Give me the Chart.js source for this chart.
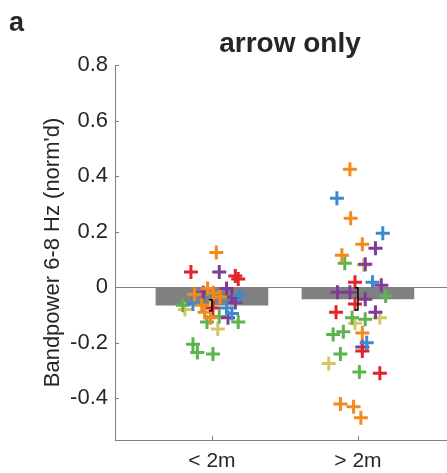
<!DOCTYPE html>
<html>
<head>
<meta charset="utf-8">
<script src="https://cdn.jsdelivr.net/npm/chart.js@4.4.1/dist/chart.umd.min.js"></script>
<style>
  html, body { margin: 0; padding: 0; background: #fff; }
  #wrap { position: relative; width: 447px; height: 473px; font-family: 'Liberation Sans', Arial, sans-serif; color: #262626; }
  #panel { position: absolute; left: 9px; top: 7px; font-size: 27px; font-weight: bold; }
  #title { position: absolute; left: 290px; top: 27px; transform: translateX(-50%); font-size: 28px; font-weight: bold; white-space: nowrap; }
  canvas { position: absolute; left: 0; top: 0; }
</style>
</head>
<body>
<div id="wrap">
  <canvas id="chart" width="447" height="473"></canvas>
  <div id="panel">a</div>
  <div id="title">arrow only</div>
</div>
<script>
// groups and their bar means / error (SEM)
const categories = ['< 2m', '> 2m'];
const barMeans   = [-0.065, -0.042];
const barErrors  = [0.02, 0.04];
const yTicks     = [0.8, 0.6, 0.4, 0.2, 0, -0.2, -0.4];

// individual subjects, x = group position + jitter
const orangePts = [
  {x:1.03,y:0.125},{x:0.97,y:-0.005},{x:0.88,y:-0.025},{x:1.01,y:-0.02},{x:1.055,y:-0.035},
  {x:0.93,y:-0.065},{x:0.95,y:-0.09},{x:0.99,y:-0.11},
  {x:1.945,y:0.425},{x:1.95,y:0.248},{x:2.03,y:0.155},{x:1.89,y:0.115},{x:2.03,y:-0.165},
  {x:1.88,y:-0.42},{x:1.97,y:-0.43},{x:2.02,y:-0.47}
];
const bluePts = [
  {x:1.19,y:-0.03},{x:0.87,y:-0.06},{x:1.10,y:-0.075},{x:1.137,y:-0.095},
  {x:1.856,y:0.32},{x:2.17,y:0.194},{x:2.10,y:0.018},{x:2.06,y:-0.2}
];
const redPts = [
  {x:0.856,y:0.055},{x:1.16,y:0.04},{x:1.18,y:0.03},{x:1.007,y:-0.075},
  {x:1.98,y:0.018},{x:1.98,y:-0.06},{x:1.85,y:-0.09},{x:2.03,y:-0.23},{x:2.15,y:-0.31}
];
const purplePts = [
  {x:1.05,y:0.055},{x:1.10,y:-0.005},{x:1.137,y:-0.035},{x:0.94,y:-0.02},{x:1.16,y:-0.055},{x:1.11,y:-0.11},
  {x:2.12,y:0.14},{x:2.05,y:0.083},{x:2.16,y:0.007},{x:1.86,y:-0.018},{x:1.945,y:-0.018},
  {x:2.05,y:-0.043},{x:2.12,y:-0.09},{x:2.03,y:-0.215}
];
const greenPts = [
  {x:0.80,y:-0.065},{x:1.05,y:-0.105},{x:1.18,y:-0.125},{x:0.966,y:-0.125},{x:0.87,y:-0.205},
  {x:0.90,y:-0.235},{x:1.007,y:-0.24},
  {x:1.91,y:0.086},{x:2.19,y:-0.032},{x:1.96,y:-0.11},{x:2.05,y:-0.115},{x:1.83,y:-0.17},
  {x:1.90,y:-0.16},{x:1.88,y:-0.24},{x:2.01,y:-0.305}
];
const yellowPts = [
  {x:0.815,y:-0.08},{x:0.99,y:-0.07},{x:1.04,y:-0.15},
  {x:2.04,y:0.08},{x:2.15,y:-0.11},{x:1.98,y:-0.13},{x:1.80,y:-0.275}
];

const AXIS = '#808080';
const TXT  = '#262626';

function crossSet(data, color) {
  return {
    type: 'scatter', data, order: 1,
    pointStyle: 'cross', pointRadius: 7, pointHoverRadius: 7,
    borderColor: color, backgroundColor: color, pointBorderWidth: 3,
  };
}

// inward ticks + error bars, drawn with the chart's own scales
const extras = {
  id: 'extras',
  afterDatasetsDraw(chart) {
    const { ctx, scales: { x, y } } = chart;
    ctx.save();
    ctx.strokeStyle = '#000';
    ctx.lineWidth = 1.5;
    barMeans.forEach((m, i) => {
      const px = x.getPixelForValue(i + 1);
      const top = y.getPixelForValue(m + barErrors[i]);
      const bot = y.getPixelForValue(m - barErrors[i]);
      ctx.beginPath();
      ctx.moveTo(px - 3, top); ctx.lineTo(px, top); ctx.lineTo(px, bot); ctx.lineTo(px - 3, bot);
      ctx.stroke();
    });
    ctx.restore();
  },
  afterDraw(chart) {
    const { ctx, chartArea: a, scales: { x, y } } = chart;
    ctx.save();
    ctx.strokeStyle = AXIS;
    ctx.lineWidth = 1;
    yTicks.forEach(v => {
      const py = Math.round(y.getPixelForValue(v)) + 0.5;
      ctx.beginPath(); ctx.moveTo(a.left, py); ctx.lineTo(a.left + 4, py); ctx.stroke();
    });
    categories.forEach((c, i) => {
      const px = Math.round(x.getPixelForValue(i + 1)) + 0.5;
      ctx.beginPath(); ctx.moveTo(px, a.bottom); ctx.lineTo(px, a.bottom - 4); ctx.stroke();
    });
    ctx.restore();
  }
};

new Chart(document.getElementById('chart'), {
  type: 'bar',
  data: {
    datasets: [
      {
        type: 'bar', order: 2,
        data: barMeans.map((m, i) => ({ x: i + 1, y: m })),
        backgroundColor: '#808080', borderWidth: 0, barThickness: 112,
      },
      crossSet(orangePts, '#F28A1E'),
      crossSet(bluePts,   '#3D89CF'),
      crossSet(redPts,    '#E0252B'),
      crossSet(purplePts, '#7E3C96'),
      crossSet(greenPts,  '#5DB350'),
      crossSet(yellowPts, '#D6C766'),
    ]
  },
  options: {
    responsive: false,
    animation: false,
    events: [],
    layout: { autoPadding: false, padding: { top: 65, right: 0, left: 0, bottom: 0 } },
    plugins: { legend: { display: false }, tooltip: { enabled: false } },
    scales: {
      x: {
        type: 'linear', min: 0.336, max: 2.61, offset: false,
        afterBuildTicks: s => { s.ticks = categories.map((c, i) => ({ value: i + 1 })); },
        afterFit: s => { s.height = 33; },
        ticks: {
          callback: v => categories[v - 1] ?? '',
          color: TXT, padding: 9, maxRotation: 0,
          font: { family: 'Liberation Sans', size: 21 },
        },
        grid: { color: 'transparent', drawTicks: false },
        border: { color: AXIS, width: 1 },
      },
      y: {
        min: -0.55, max: 0.8,
        afterBuildTicks: s => { s.ticks = yTicks.map(v => ({ value: v })); },
        afterFit: s => { s.width = 115; },
        ticks: {
          callback: v => String(v),
          color: TXT, padding: 7,
          font: { family: 'Liberation Sans', size: 22 },
        },
        grid: {
          drawTicks: false,
          lineWidth: 1,
          color: c => (c.tick && c.tick.value === 0) ? AXIS : 'transparent',
        },
        border: { color: AXIS, width: 1 },
        title: {
          display: true, text: "Bandpower 6-8 Hz (norm'd)",
          color: TXT, padding: { top: 40, bottom: 0 },
          font: { family: 'Liberation Sans', size: 22 },
        },
      }
    }
  },
  plugins: [extras]
});
</script>
</body>
</html>
